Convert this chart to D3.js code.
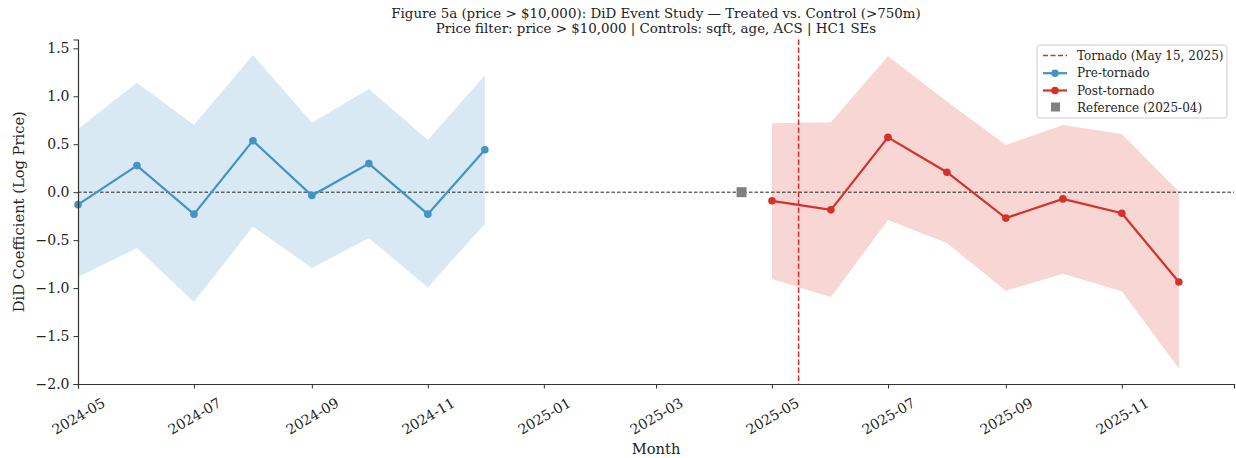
<!DOCTYPE html>
<html><head><meta charset="utf-8">
<script src="https://cdn.jsdelivr.net/npm/d3@7"></script>
<style>
body{margin:0;background:#fff;}
text{font-family:"DejaVu Serif",serif;}
</style></head>
<body><svg id="c" width="1236" height="458"></svg>
<script>
const preMonths = ["2024-05","2024-06","2024-07","2024-08","2024-09","2024-10","2024-11","2024-12"];
const preCoef  = [-0.13, 0.277, -0.229, 0.537, -0.035, 0.298, -0.229, 0.443];
const preLower = [-0.885, -0.583, -1.145, -0.358, -0.79, -0.479, -0.993, -0.33];
const preUpper = [0.66, 1.14, 0.70, 1.43, 0.724, 1.075, 0.544, 1.22];

const postMonths = ["2025-05","2025-06","2025-07","2025-08","2025-09","2025-10","2025-11","2025-12"];
const postCoef  = [-0.09, -0.184, 0.572, 0.208, -0.27, -0.07, -0.219, -0.937];
const postLower = [-0.905, -1.093, -0.29, -0.53, -1.027, -0.85, -1.034, -1.839];
const postUpper = [0.718, 0.728, 1.418, 0.946, 0.492, 0.70, 0.607, 0.006];

const refDate = "2025-04-15";
const refValue = 0.0;
const tornadoDate = "2025-05-15";

const xTicks = ["2024-05","2024-07","2024-09","2024-11","2025-01","2025-03","2025-05","2025-07","2025-09","2025-11"];
const yTicks = [1.5, 1.0, 0.5, 0.0, -0.5, -1.0, -1.5, -2.0];
const legendLabels = ["Tornado (May 15, 2025)","Pre-tornado","Post-tornado","Reference (2025-04)"];
const titleLines = ["Figure 5a (price > $10,000): DiD Event Study \u2014 Treated vs. Control (>750m)",
                    "Price filter: price > $10,000 | Controls: sqft, age, ACS | HC1 SEs"];

const blue = "#4393c3", red = "#d6302a";
const parseM = d3.utcParse("%Y-%m");
const parseD = d3.utcParse("%Y-%m-%d");

const svg = d3.select("#c");
const L = 78, R = 1234, T = 39.5, B = 384;
const x = d3.scaleUtc().domain([parseD("2024-05-01"), parseD("2025-12-30")]).range([L, R]);
const y = d3.scaleLinear().domain([-2.0, 1.592]).range([B, T]);

function band(months, lo, hi, color){
  const data = months.map((m,i)=>({d:parseM(m), lo:lo[i], hi:hi[i]}));
  svg.append("path").datum(data)
    .attr("d", d3.area().x(d=>x(d.d)).y0(d=>y(d.lo)).y1(d=>y(d.hi)))
    .attr("fill", color).attr("fill-opacity", 0.2);
}
function series(months, vals, color){
  const data = months.map((m,i)=>({d:parseM(m), v:vals[i]}));
  svg.append("path").datum(data)
    .attr("d", d3.line().x(d=>x(d.d)).y(d=>y(d.v)))
    .attr("fill","none").attr("stroke", color).attr("stroke-width", 2.2);
  svg.selectAll(null).data(data).enter().append("circle")
    .attr("cx", d=>x(d.d)).attr("cy", d=>y(d.v)).attr("r", 3.8).attr("fill", color);
}

band(preMonths, preLower, preUpper, blue);
band(postMonths, postLower, postUpper, red);

// zero line
svg.append("line").attr("x1",L).attr("x2",R).attr("y1",y(0)).attr("y2",y(0))
  .attr("stroke","#222").attr("stroke-width",1).attr("stroke-dasharray","3.5,2");

// tornado line
svg.append("line").attr("x1",x(parseD(tornadoDate))).attr("x2",x(parseD(tornadoDate)))
  .attr("y1",T).attr("y2",B).attr("stroke",red).attr("stroke-width",1.5).attr("stroke-dasharray","5.5,2.5");

series(preMonths, preCoef, blue);
series(postMonths, postCoef, red);

// reference square
svg.append("rect").attr("x", x(parseD(refDate))-5).attr("y", y(refValue)-5)
  .attr("width",10).attr("height",10).attr("fill","#808080");

// axes
const xAxis = svg.append("g").attr("transform",`translate(0,${B})`)
  .call(d3.axisBottom(x).tickValues(xTicks.map(parseM)).tickFormat(d3.utcFormat("%Y-%m")).tickSizeOuter(0).tickSize(4.5));
xAxis.select(".domain").attr("stroke","#333").attr("stroke-width",1.2);
xAxis.selectAll(".tick line").attr("stroke","#333");
xAxis.selectAll(".tick text").attr("font-size",14).attr("fill","#222")
  .attr("font-family","DejaVu Serif")
  .attr("text-anchor","middle").attr("dy",null).attr("y",null)
  .attr("dominant-baseline","central")
  .attr("transform","translate(0,32) rotate(-30)");

const yAxis = svg.append("g").attr("transform",`translate(${L},0)`)
  .call(d3.axisLeft(y).tickValues(yTicks).tickFormat(d=>d3.format(".1f")(d).replace("-","\u2212")).tickSizeOuter(0).tickSize(4.5));
yAxis.select(".domain").attr("stroke","#333").attr("stroke-width",1.2);
yAxis.selectAll(".tick line").attr("stroke","#333");
yAxis.selectAll(".tick text").attr("font-size",14).attr("fill","#222").attr("font-family","DejaVu Serif").attr("x",-8.5);

// labels
svg.append("text").attr("x",(L+R)/2).attr("y",448).attr("text-anchor","middle")
  .attr("dominant-baseline","central").attr("font-size",14.7).attr("fill","#222").text("Month");
svg.append("text").attr("transform",`translate(18.5,${(T+B)/2}) rotate(-90)`).attr("text-anchor","middle")
  .attr("dominant-baseline","central").attr("font-size",14.7).attr("fill","#222").text("DiD Coefficient (Log Price)");

svg.selectAll(null).data(titleLines).enter().append("text")
  .attr("x",(L+R)/2).attr("y",(d,i)=>13.5+i*14.5).attr("text-anchor","middle")
  .attr("dominant-baseline","central").attr("font-size",13.4).attr("fill","#222").text(d=>d);

// legend
const lg = svg.append("g");
lg.append("rect").attr("x",1037).attr("y",45).attr("width",190).attr("height",73).attr("rx",3)
  .attr("fill","#fff").attr("fill-opacity",0.85).attr("stroke","#ccc").attr("stroke-width",1);
const rowY = [55.5, 73.2, 90.5, 107.5];
legendLabels.forEach((lab,i)=>{
  const yy = rowY[i];
  if(i===0){
    lg.append("line").attr("x1",1043).attr("x2",1067).attr("y1",yy).attr("y2",yy)
      .attr("stroke",red).attr("stroke-width",1.5).attr("stroke-dasharray","5,2.5");
  } else if(i<3){
    const c = i===1?blue:red;
    lg.append("line").attr("x1",1043).attr("x2",1067).attr("y1",yy).attr("y2",yy)
      .attr("stroke",c).attr("stroke-width",2.2);
    lg.append("circle").attr("cx",1055).attr("cy",yy).attr("r",3.8).attr("fill",c);
  } else {
    lg.append("rect").attr("x",1051).attr("y",yy-5).attr("width",9).attr("height",9).attr("fill","#808080");
  }
  lg.append("text").attr("x",1077).attr("y",yy).attr("dominant-baseline","central")
    .attr("font-size",12).attr("fill","#222").text(lab);
});
</script></body></html>
